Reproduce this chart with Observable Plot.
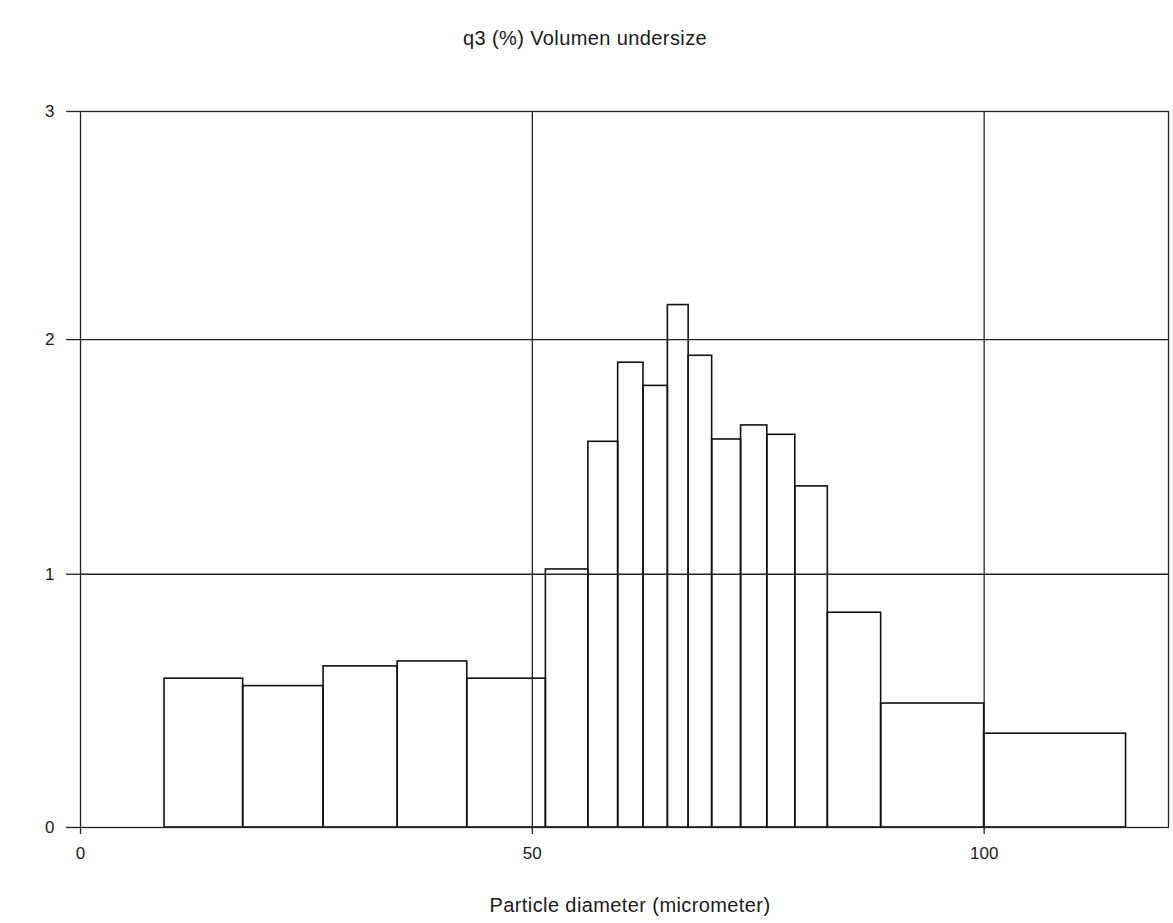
<!DOCTYPE html>
<html>
<head>
<meta charset="utf-8">
<script src="https://cdn.jsdelivr.net/npm/d3@7"></script>
<script src="https://cdn.jsdelivr.net/npm/@observablehq/plot@0.6"></script>
<style>
  html, body { margin: 0; padding: 0; background: #fff; }
  body { width: 1173px; height: 923px; overflow: hidden; font-family: "Liberation Sans", Arial, sans-serif; color: #1a1a1a; }
  #title { width: 1170px; height: 80px; box-sizing: border-box; padding-top: 28px; font-size: 20px; line-height: 20px; text-align: center; letter-spacing: 0.4px; }
  #xlabel { margin-left: 87px; width: 1086px; box-sizing: border-box; padding-top: 15px; font-size: 20px; line-height: 20px; text-align: center; letter-spacing: 0.4px; }
  #chart svg { display: block; }
</style>
</head>
<body>
<div id="title"></div>
<div id="chart"></div>
<div id="xlabel"></div>
<script>
// Bin edges (particle diameter, micrometer) and q3 values (%) per bin
const binEdges = [9.3, 18, 26.9, 35.1, 42.8, 51.5, 56.2, 59.5, 62.3, 65, 67.3, 69.9, 73.1, 76, 79.1, 82.7, 88.6, 100, 115.7];
const q3Values = [0.57, 0.54, 0.62, 0.64, 0.57, 1.02, 1.56, 1.90, 1.80, 2.15, 1.93, 1.57, 1.63, 1.59, 1.37, 0.84, 0.47, 0.35];
const xTicks = [0, 50, 100];
const yTicks = [0, 1, 2, 3];
const xGrid = [50, 100];
const yGrid = [1, 2];
const titleText = "q3 (%) Volumen undersize";
const xLabelText = "Particle diameter (micrometer)";

const bins = q3Values.map((v, i) => ({x1: binEdges[i], x2: binEdges[i + 1], q3: v}));

document.getElementById("title").textContent = titleText;
document.getElementById("xlabel").textContent = xLabelText;

const chart = Plot.plot({
  width: 1173,
  height: 800,
  marginLeft: 80,
  marginRight: 5,
  marginTop: 31,
  marginBottom: 53,
  style: {fontFamily: "'Liberation Sans', Arial, sans-serif", fontSize: "17px", color: "#1a1a1a", background: "#fff"},
  x: {domain: [0, 120.4]},
  // slight power curve follows the uneven grid spacing of the original picture
  y: {type: "pow", exponent: 0.946, domain: [0, 3]},
  marks: [
    Plot.rectY(bins, {x1: "x1", x2: "x2", y: "q3", fill: "none", stroke: "#111", strokeWidth: 1.6, inset: 0}),
    Plot.gridX(xGrid, {stroke: "#222", strokeOpacity: 1, strokeWidth: 1.3}),
    Plot.gridY(yGrid, {stroke: "#222", strokeOpacity: 1, strokeWidth: 1.3}),
    Plot.frame({stroke: "#222", strokeWidth: 1.3}),
    Plot.axisY({ticks: yTicks, tickFormat: d => String(d), tickSize: 14, tickPadding: 12, label: null, stroke: "#222", strokeWidth: 1.3, fontSize: 17}),
    Plot.axisX({ticks: xTicks, tickFormat: d => String(d), tickSize: 7, tickPadding: 12, label: null, stroke: "#222", strokeWidth: 1.3, fontSize: 17})
  ]
});
document.getElementById("chart").appendChild(chart);
</script>
</body>
</html>
